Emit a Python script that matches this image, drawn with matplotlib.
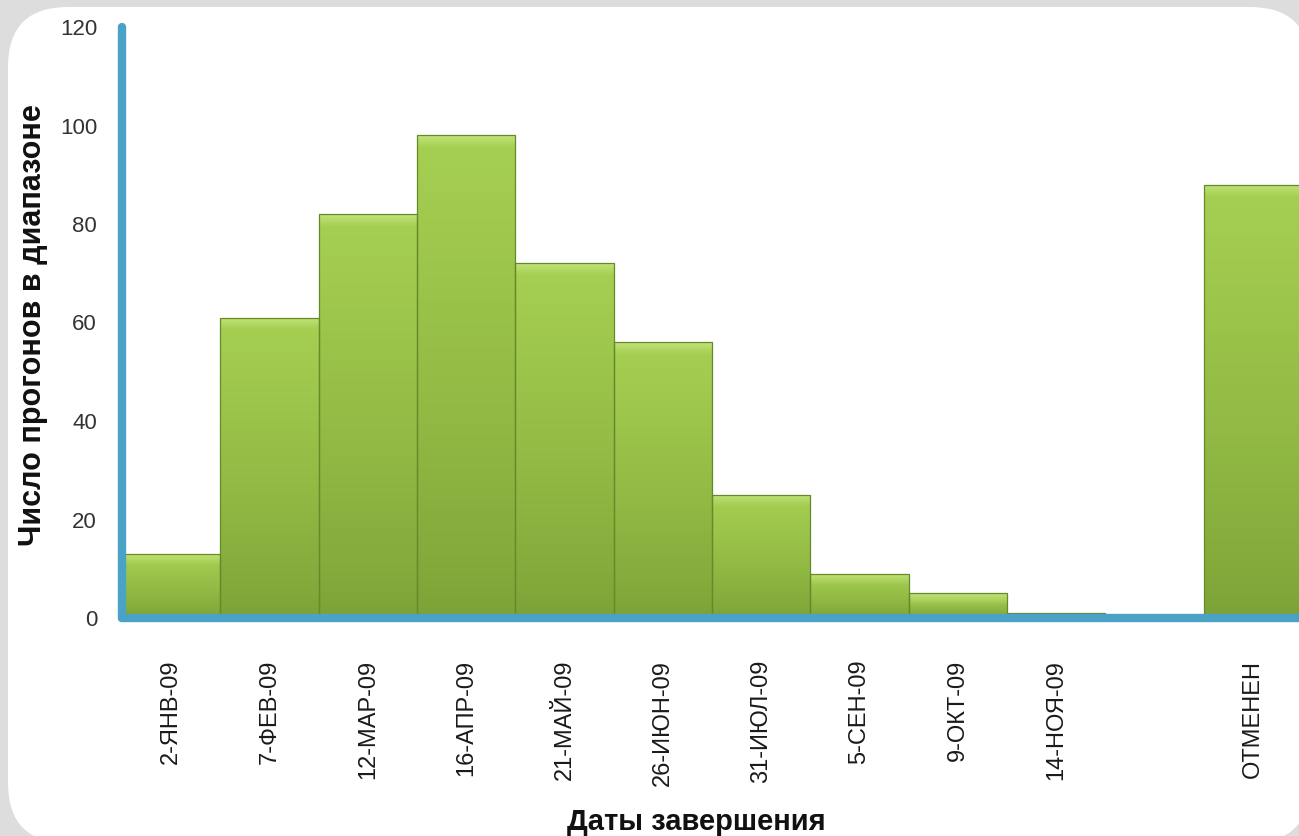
import numpy as np
import matplotlib.pyplot as plt
from matplotlib.patches import FancyBboxPatch
from matplotlib.transforms import IdentityTransform
from matplotlib.colors import to_rgb

# completion dates histogram
labels = ["2-ЯНВ-09", "7-ФЕВ-09", "12-МАР-09", "16-АПР-09", "21-МАЙ-09", "26-ИЮН-09",
          "31-ИЮЛ-09", "5-СЕН-09", "9-ОКТ-09", "14-НОЯ-09", "", "ОТМЕНЕН"]
counts = [13, 61, 82, 98, 72, 56, 25, 9, 5, 1, 0, 88]
yticks = [0, 20, 40, 60, 80, 100, 120]

plt.rcParams['font.family'] = ['Liberation Sans', 'DejaVu Sans']

fig = plt.figure(figsize=(12.99, 8.36), dpi=100)
fig.patch.set_facecolor('#dddddd')

# white rounded panel behind the chart (pixel coords)
panel = FancyBboxPatch((8, -7), 1302, 836, boxstyle='round,pad=0,rounding_size=60',
                       transform=IdentityTransform(), facecolor='white',
                       edgecolor='none', zorder=-5)
fig.add_artist(panel)

ax = fig.add_axes([122 / 1299, 218 / 836, 1180 / 1299, 591 / 836])
ax.set_facecolor('none')

x = np.arange(len(counts))
bars = ax.bar(x, counts, width=1, align='edge', facecolor='none',
              edgecolor='#668a28', linewidth=0.9, zorder=2)

top_c = np.array(to_rgb('#a6d052'))
bot_c = np.array(to_rgb('#7ca236'))
hi_c = np.array(to_rgb('#c8e884'))
for xi, h, b in zip(x, counts, bars):
    if h <= 0:
        continue
    n = 400
    ys = np.linspace(h, 0, n)
    frac = np.clip(ys / h, 0, 1)[:, None]
    col = bot_c[None, :] + (top_c - bot_c)[None, :] * frac ** 0.8
    # bevel highlight near the top edge
    d = h - ys
    bev = np.clip(1 - d / 2.4, 0, 1)[:, None]
    col = col * (1 - bev * 0.8) + hi_c[None, :] * bev * 0.8
    img = col[:, None, :].repeat(4, axis=1)
    im = ax.imshow(img, extent=[xi, xi + 1, 0, h], aspect='auto', origin='upper',
                   zorder=1.9, interpolation='bilinear')
    im.set_clip_path(b)

ax.set_xlim(0, 12)
ax.set_ylim(0, 120)

for side in ['top', 'right']:
    ax.spines[side].set_visible(False)
for side in ['left', 'bottom']:
    ax.spines[side].set_color('#4aa3c6')
    ax.spines[side].set_linewidth(6)
    ax.spines[side].set_capstyle('round')
    ax.spines[side].set_zorder(3)

ax.set_yticks(yticks)
ax.tick_params(axis='y', length=3, width=3, color='#3f8aa6', pad=15,
               labelsize=16, labelcolor='#333333')

ax.set_xticks(np.arange(0, 12))
ax.set_xticklabels([])
ax.set_xticks(x + 0.5, minor=True)
ax.set_xticklabels(labels, minor=True, rotation=90, va='top', ha='center')
ax.tick_params(axis='x', which='major', length=3, width=3, color='#3f8aa6')
ax.tick_params(axis='x', which='minor', length=0, pad=30, labelsize=17,
               labelcolor='#1a1a1a')

ax.set_xlabel("Даты завершения", fontsize=21, fontweight='bold', color='#111111')
ax.xaxis.set_label_coords(0.487, -0.346)
ax.xaxis.label.set_va('center')
ax.set_ylabel("Число прогонов в диапазоне", fontsize=22, fontweight='bold', color='#111111')
ax.yaxis.set_label_coords(-0.075, 0.496)
ax.yaxis.label.set_va('center')

plt.savefig("out.png", dpi=100, facecolor=fig.get_facecolor())
plt.close()
